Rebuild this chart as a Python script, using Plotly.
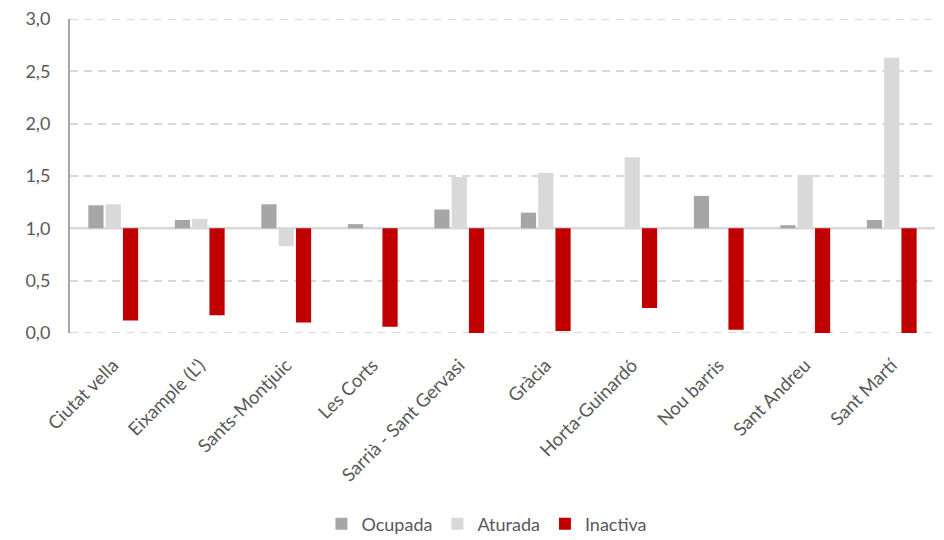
import plotly.graph_objects as go

districts = ["Ciutat vella", "Eixample (L')", "Sants-Montjuic", "Les Corts",
             "Sarrià - Sant Gervasi", "Gràcia", "Horta-Guinardó", "Nou barris",
             "Sant Andreu", "Sant Martí"]
ocupada = [1.22, 1.08, 1.23, 1.04, 1.18, 1.15, 1.00, 1.31, 1.03, 1.08]
aturada = [1.23, 1.09, 0.83, 1.00, 1.49, 1.53, 1.68, 1.00, 1.51, 2.63]
inactiva = [0.12, 0.17, 0.10, 0.06, 0.00, 0.02, 0.24, 0.03, 0.00, 0.00]

baseline = 1.0
series = [("Ocupada", ocupada, "#a6a6a6"),
          ("Aturada", aturada, "#d9d9d9"),
          ("Inactiva", inactiva, "#c00000")]

fig = go.Figure()
for name, vals, col in series:
    fig.add_trace(go.Bar(
        name=name, x=districts, y=[v - baseline for v in vals], base=baseline,
        customdata=vals, hovertemplate="%{x}: %{customdata:.2f}<extra>" + name + "</extra>",
        marker=dict(color=col, line=dict(width=0))))

font = "Lato, sans-serif"
# page body has an 8px margin, so the figure is sized to fill the rest of the window
fig.update_layout(
    width=936, height=532,
    paper_bgcolor="white", plot_bgcolor="white",
    barmode="group", bargap=0.4, bargroupgap=0.12,
    separators=",.",
    margin=dict(l=62, r=9, t=11, b=207),
    font=dict(family=font, color="#595959", size=18),
    legend=dict(orientation="h", x=0.482, xanchor="center",
                yref="container", y=0.03, yanchor="middle",
                font=dict(size=18, color="#595959"), itemwidth=30, traceorder="normal"),
    showlegend=True,
)
fig.update_yaxes(range=[0, 3], dtick=0.5, tickformat=".1f", automargin=False,
                 showgrid=True, gridcolor="#d9d9d9", griddash="8px,6px", gridwidth=2,
                 zeroline=False, showline=True, linecolor="#a6a6a6", linewidth=2,
                 ticks="", ticklabelstandoff=14, ticklabeloverflow="allow",
                 tickfont=dict(size=18))
fig.update_xaxes(tickangle=-45, showline=False, showgrid=False, ticks="", automargin=False,
                 ticklabelstandoff=17, tickfont=dict(size=18.5))
for yv in (0, 3):
    fig.add_shape(type="line", xref="paper", yref="y", x0=0, x1=1, y0=yv, y1=yv,
                  line=dict(color="#d9d9d9", width=2, dash="8px,6px"), layer="below")
fig.add_shape(type="line", xref="paper", yref="y", x0=0, x1=1, y0=baseline, y1=baseline,
              line=dict(color="#d9d9d9", width=2.5), layer="below")

fig.write_html("out.html")
